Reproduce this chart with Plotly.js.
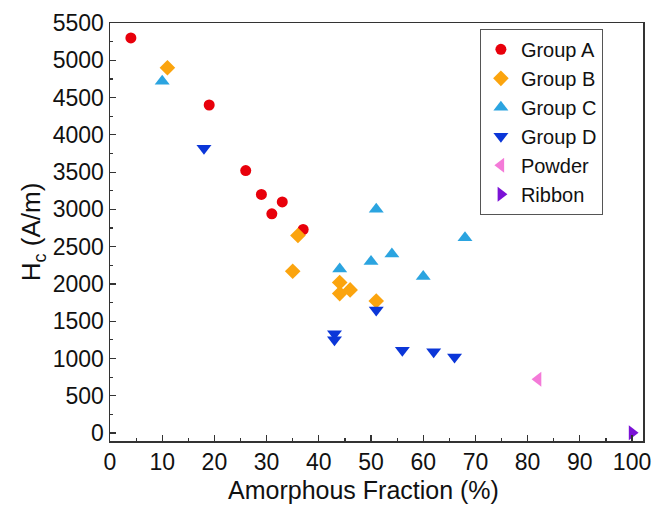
<!DOCTYPE html>
<html>
<head>
<meta charset="utf-8">
<script src="https://cdn.plot.ly/plotly-3.0.1.min.js"></script>
<style>html,body{margin:0;padding:0;background:#fff;}#chart{width:656px;height:508px;}</style>
</head>
<body>
<div id="chart"></div>
<script>
const seriesNames = ["Group A", "Group B", "Group C", "Group D", "Powder", "Ribbon"];
const groupA_x = [4, 19, 26, 29, 31, 33, 37];
const groupA_y = [5300, 4400, 3520, 3200, 2940, 3100, 2730];
const groupB_x = [11, 36, 35, 44, 44, 46, 51];
const groupB_y = [4900, 2650, 2170, 2020, 1870, 1920, 1770];
const groupC_x = [10, 44, 51, 50, 54, 60, 68];
const groupC_y = [4720, 2200, 3000, 2300, 2400, 2100, 2620];
const groupD_x = [18, 51, 43, 43, 56, 62, 66];
const groupD_y = [3820, 1650, 1330, 1250, 1110, 1090, 1020];
const powder_x = [82];
const powder_y = [720];
const ribbon_x = [100];
const ribbon_y = [5];
const xTicks = [0, 10, 20, 30, 40, 50, 60, 70, 80, 90, 100];
const yTicks = [0, 500, 1000, 1500, 2000, 2500, 3000, 3500, 4000, 4500, 5000, 5500];
const xTitle = "Amorphous Fraction (%)";
const yTitle = "H<sub>c</sub> (A/m)";

const colors = ["#e8000b", "#fba40e", "#2ba4e0", "#0b36d8", "#f47ad8", "#7b12d6"];
const symbols = ["circle", "diamond", "triangle-up", "triangle-down", "triangle-left", "triangle-right"];
const sizes = [11, 12, 13, 13, 13, 13];
const xs = [groupA_x, groupB_x, groupC_x, groupD_x, powder_x, ribbon_x];
const ys = [groupA_y, groupB_y, groupC_y, groupD_y, powder_y, ribbon_y];

const traces = seriesNames.map((n, i) => ({
  type: "scatter", mode: "markers", name: n,
  x: xs[i], y: ys[i],
  marker: {color: colors[i], symbol: symbols[i], size: sizes[i], line: {width: 0}}
}));

const font = "Liberation Sans, Arial, sans-serif";
const layout = {
  width: 656, height: 508,
  margin: {l: 110, r: 13, t: 23, b: 67},
  paper_bgcolor: "#fff", plot_bgcolor: "#fff",
  font: {family: font, color: "#111", size: 21},
  showlegend: true,
  legend: {
    x: 0.694, y: 0.986, xanchor: "left", yanchor: "top",
    bordercolor: "#555", borderwidth: 1, bgcolor: "#fff",
    font: {family: font, size: 20, color: "#111"}
  },
  xaxis: {
    range: [0, 102.1], tickvals: xTicks, ticktext: xTicks.map(String),
    ticks: "inside", ticklen: 6, tickwidth: 1.2, tickcolor: "#333",
    minor: {dtick: 5, tick0: 0, ticks: "inside", ticklen: 3, tickcolor: "#333", showgrid: false},
    showline: true, linecolor: "#333", linewidth: 1.5, mirror: true,
    showgrid: false, zeroline: false,
    tickfont: {size: 23, family: font, color: "#111"}
  },
  yaxis: {
    range: [-107, 5500], tickvals: yTicks, ticktext: yTicks.map(String),
    ticks: "inside", ticklen: 6, tickwidth: 1.2, tickcolor: "#333",
    minor: {dtick: 250, tick0: 0, ticks: "inside", ticklen: 3, tickcolor: "#333", showgrid: false},
    showline: true, linecolor: "#333", linewidth: 1.5, mirror: true,
    showgrid: false, zeroline: false,
    tickfont: {size: 23, family: font, color: "#111"},
    title: {text: yTitle, font: {size: 26, family: font, color: "#111"}, standoff: 4}
  },
  annotations: [{
    text: xTitle, xref: "paper", yref: "paper",
    x: (363 - 110) / 533, y: -0.117, xanchor: "center", yanchor: "middle",
    showarrow: false, font: {size: 25, family: font, color: "#111"}
  }]
};

Plotly.newPlot("chart", traces, layout, {displayModeBar: false, staticPlot: true});
</script>
</body>
</html>
